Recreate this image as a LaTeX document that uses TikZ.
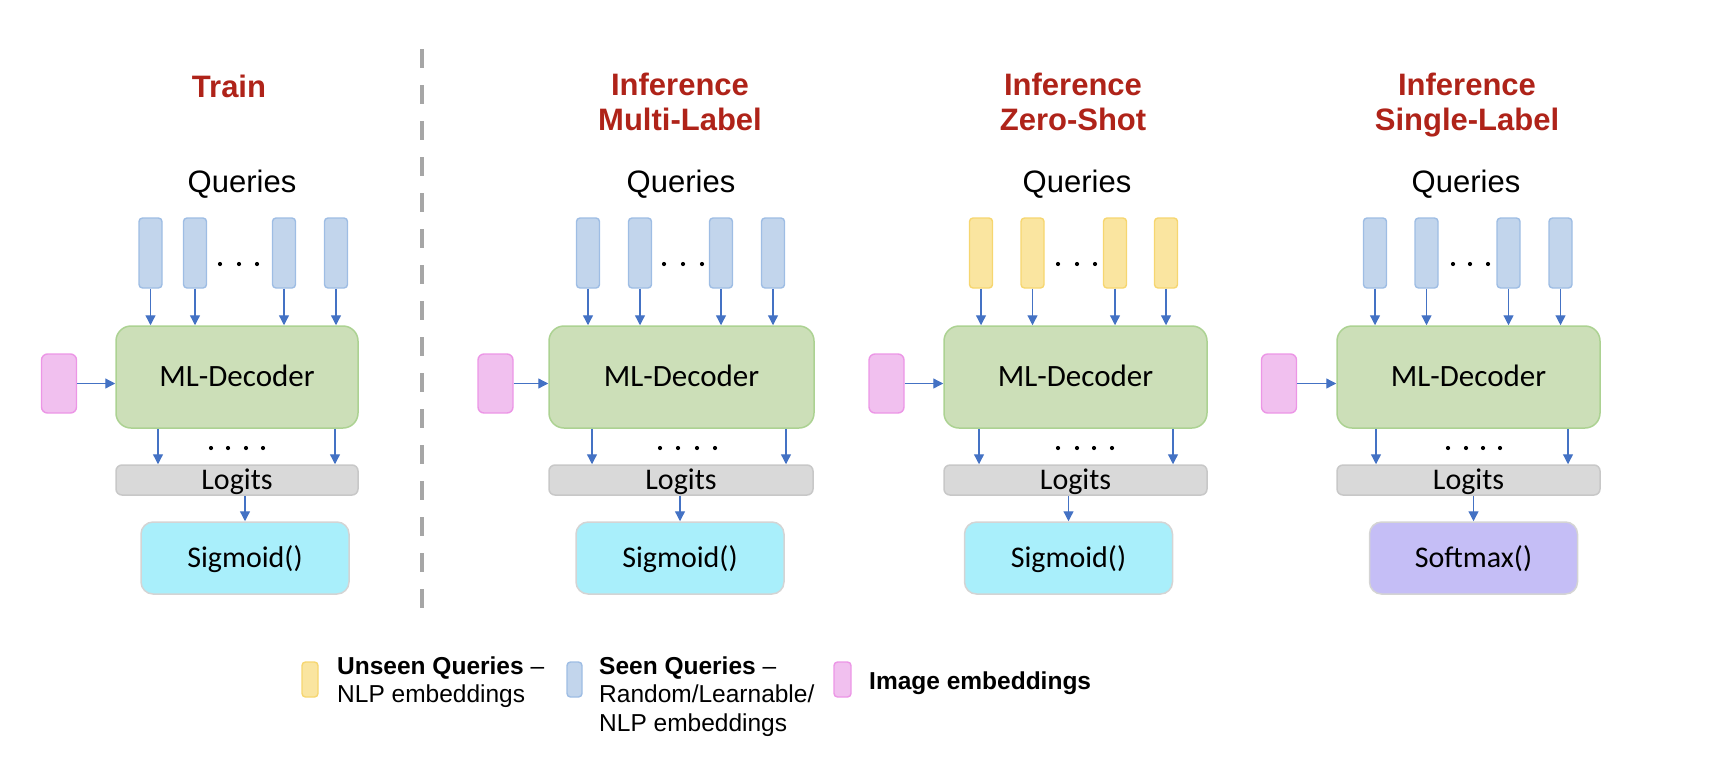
\documentclass[tikz,border=0pt]{standalone}
\usepackage{fontspec}
\setmainfont{Liberation Sans}
\newfontfamily\calib{Carlito}
\usetikzlibrary{arrows.meta}
\definecolor{qblue}{RGB}{194,213,236}
\definecolor{qbluedraw}{RGB}{158,189,228}
\definecolor{qyel}{RGB}{250,229,160}
\definecolor{qyeldraw}{RGB}{246,214,112}
\definecolor{pinkf}{RGB}{241,192,239}
\definecolor{pinkd}{RGB}{236,150,230}
\definecolor{decf}{RGB}{204,223,184}
\definecolor{decd}{RGB}{172,210,146}
\definecolor{logf}{RGB}{217,217,217}
\definecolor{logd}{RGB}{200,200,200}
\definecolor{sigf}{RGB}{169,239,251}
\definecolor{softf}{RGB}{197,190,246}
\definecolor{boxd}{RGB}{212,212,212}
\definecolor{arrc}{RGB}{68,114,196}
\definecolor{titc}{RGB}{175,35,25}
\definecolor{dashc}{RGB}{166,166,166}
\begin{document}
\begin{tikzpicture}[x=1pt,y=-1pt,
  titlestyle/.style={font=\bfseries\fontsize{31}{35}\selectfont, text=titc, anchor=base, inner sep=0pt},
  qlabel/.style={font=\fontsize{31}{35}\selectfont, anchor=base, inner sep=0pt},
  qbox/.style={draw=qbluedraw, fill=qblue, rounded corners=3.5pt, line width=1.4pt, minimum width=23pt, minimum height=70pt, inner sep=0pt},
  ybox/.style={qbox, draw=qyeldraw, fill=qyel},
  pinkbox/.style={draw=pinkd, fill=pinkf, rounded corners=6pt, line width=1.4pt, minimum width=35pt, minimum height=59pt, inner sep=0pt},
  decbox/.style={draw=decd, fill=decf, rounded corners=15pt, line width=1.5pt, minimum height=102pt, inner sep=0pt, font=\calib\fontsize{31}{36}\selectfont, text height=19.5pt, text depth=0pt},
  logbox/.style={draw=logd, fill=logf, rounded corners=6pt, line width=1.5pt, minimum height=30pt, inner sep=0pt, font=\calib\fontsize{30}{36}\selectfont, text height=19pt, text depth=0pt},
  sigbox/.style={draw=boxd, fill=sigf, rounded corners=12pt, line width=1.5pt, minimum width=208pt, minimum height=72pt, inner sep=0pt, font=\calib\fontsize{30}{36}\selectfont, text height=19pt, text depth=0pt},
  softbox/.style={sigbox, fill=softf},
  arr/.style={draw=arrc, line width=1.3pt, -{Triangle[length=10pt,width=10pt]}},
  dashline/.style={draw=dashc, line width=4.5pt, dash pattern=on 19pt off 17pt},
  legtext/.style={font=\fontsize{24.5}{28}\selectfont, anchor=base west, inner sep=0pt},
  legsw/.style={rounded corners=3.5pt, line width=1.4pt, minimum height=35pt, inner sep=0pt}
]
\useasboundingbox (0,0) rectangle (1726,756);

% separator
\coordinate (dtop) at (422,49);
\coordinate (dbot) at (422,617);
\draw[dashline] (dtop) -- (dbot);

% ===== Train =====
\node[titlestyle] (t-title) at (229,97) {Train};
\node[qlabel] (t-queries) at (242,192) {Queries};
\node[qbox] (t-q1) at (150.5,253) {};
\node[qbox] (t-q2) at (195,253) {};
\node[qbox] (t-q3) at (284,253) {};
\node[qbox] (t-q4) at (336,253) {};
\node[decbox, minimum width=242pt] (t-dec) at (237,377) {ML-Decoder};
\node[pinkbox] (t-img) at (59,383.5) {};
\node[logbox, minimum width=242pt] (t-log) at (237,480) {Logits};
\node[sigbox] (t-sig) at (245,558) {Sigmoid()};
\foreach \i in {1,...,4} \draw[arr] (t-q\i.south) -- (t-q\i.south |- t-dec.north);
\draw[arr] (t-img.east) -- (t-img.east -| t-dec.west);
\coordinate (t-o1) at (158,0); \coordinate (t-o2) at (335,0);
\draw[arr] (t-dec.south -| t-o1) -- (t-log.north -| t-o1);
\draw[arr] (t-dec.south -| t-o2) -- (t-log.north -| t-o2);
\draw[arr] (t-log.south -| t-sig.north) -- (t-sig.north);
\foreach \x in {220,239,257} \fill (\x,264) circle (2.1pt);
\foreach \x in {211,228,246,263} \fill (\x,448) circle (2.1pt);

% ===== Multi-Label =====
\node[titlestyle] (m-title1) at (680,95) {Inference};
\node[titlestyle] (m-title2) at (680,130) {Multi-Label};
\node[qlabel] (m-queries) at (681,192) {Queries};
\node[qbox] (m-q1) at (588,253) {};
\node[qbox] (m-q2) at (640,253) {};
\node[qbox] (m-q3) at (721,253) {};
\node[qbox] (m-q4) at (773,253) {};
\node[decbox, minimum width=265pt] (m-dec) at (681.5,377) {ML-Decoder};
\node[pinkbox] (m-img) at (495.5,383.5) {};
\node[logbox, minimum width=264pt] (m-log) at (681,480) {Logits};
\node[sigbox] (m-sig) at (680,558) {Sigmoid()};
\foreach \i in {1,...,4} \draw[arr] (m-q\i.south) -- (m-q\i.south |- m-dec.north);
\draw[arr] (m-img.east) -- (m-img.east -| m-dec.west);
\coordinate (m-o1) at (592,0); \coordinate (m-o2) at (786,0);
\draw[arr] (m-dec.south -| m-o1) -- (m-log.north -| m-o1);
\draw[arr] (m-dec.south -| m-o2) -- (m-log.north -| m-o2);
\draw[arr] (m-log.south -| m-sig.north) -- (m-sig.north);
\foreach \x in {664,683,702} \fill (\x,264) circle (2.1pt);
\foreach \x in {660,678,697,715} \fill (\x,448) circle (2.1pt);

% ===== Zero-Shot =====
\node[titlestyle] (z-title1) at (1073,95) {Inference};
\node[titlestyle] (z-title2) at (1073,130) {Zero-Shot};
\node[qlabel] (z-queries) at (1077,192) {Queries};
\node[ybox] (z-q1) at (981,253) {};
\node[ybox] (z-q2) at (1032.5,253) {};
\node[ybox] (z-q3) at (1115,253) {};
\node[ybox] (z-q4) at (1166,253) {};
\node[decbox, minimum width=263pt] (z-dec) at (1075.5,377) {ML-Decoder};
\node[pinkbox] (z-img) at (886.5,383.5) {};
\node[logbox, minimum width=263pt] (z-log) at (1075.5,480) {Logits};
\node[sigbox] (z-sig) at (1068.5,558) {Sigmoid()};
\foreach \i in {1,...,4} \draw[arr] (z-q\i.south) -- (z-q\i.south |- z-dec.north);
\draw[arr] (z-img.east) -- (z-img.east -| z-dec.west);
\coordinate (z-o1) at (979,0); \coordinate (z-o2) at (1173,0);
\draw[arr] (z-dec.south -| z-o1) -- (z-log.north -| z-o1);
\draw[arr] (z-dec.south -| z-o2) -- (z-log.north -| z-o2);
\draw[arr] (z-log.south -| z-sig.north) -- (z-sig.north);
\foreach \x in {1058,1077,1095} \fill (\x,264) circle (2.1pt);
\foreach \x in {1058,1077,1094,1112} \fill (\x,448) circle (2.1pt);

% ===== Single-Label =====
\node[titlestyle] (s-title1) at (1467,95) {Inference};
\node[titlestyle] (s-title2) at (1467,130) {Single-Label};
\node[qlabel] (s-queries) at (1466,192) {Queries};
\node[qbox] (s-q1) at (1375,253) {};
\node[qbox] (s-q2) at (1426.5,253) {};
\node[qbox] (s-q3) at (1508.5,253) {};
\node[qbox] (s-q4) at (1560.5,253) {};
\node[decbox, minimum width=263pt] (s-dec) at (1468.5,377) {ML-Decoder};
\node[pinkbox] (s-img) at (1279,383.5) {};
\node[logbox, minimum width=263pt] (s-log) at (1468.5,480) {Logits};
\node[softbox] (s-sig) at (1473.5,558) {Softmax()};
\foreach \i in {1,...,4} \draw[arr] (s-q\i.south) -- (s-q\i.south |- s-dec.north);
\draw[arr] (s-img.east) -- (s-img.east -| s-dec.west);
\coordinate (s-o1) at (1376,0); \coordinate (s-o2) at (1568,0);
\draw[arr] (s-dec.south -| s-o1) -- (s-log.north -| s-o1);
\draw[arr] (s-dec.south -| s-o2) -- (s-log.north -| s-o2);
\draw[arr] (s-log.south -| s-sig.north) -- (s-sig.north);
\foreach \x in {1453,1470,1488} \fill (\x,264) circle (2.1pt);
\foreach \x in {1448,1466,1483,1500} \fill (\x,448) circle (2.1pt);

% ===== Legend =====
\node[legsw, draw=qyeldraw, fill=qyel, minimum width=16pt] (l-yel) at (310,679.5) {};
\node[legtext] (l-y1) at (337,674) {\bfseries Unseen Queries \mdseries –};
\node[legtext] (l-y2) at (337,702.5) {NLP embeddings};
\node[legsw, draw=qbluedraw, fill=qblue, minimum width=15pt] (l-blue) at (574.5,679.5) {};
\node[legtext] (l-b1) at (599,674) {\bfseries Seen Queries \mdseries –};
\node[legtext] (l-b2) at (599,702.5) {Random/Learnable/};
\node[legtext] (l-b3) at (599,731) {NLP embeddings};
\node[legsw, draw=pinkd, fill=pinkf, minimum width=17pt] (l-pink) at (842.5,679.5) {};
\node[legtext] (l-p1) at (869,689) {\bfseries Image embeddings};
\end{tikzpicture}
\end{document}
